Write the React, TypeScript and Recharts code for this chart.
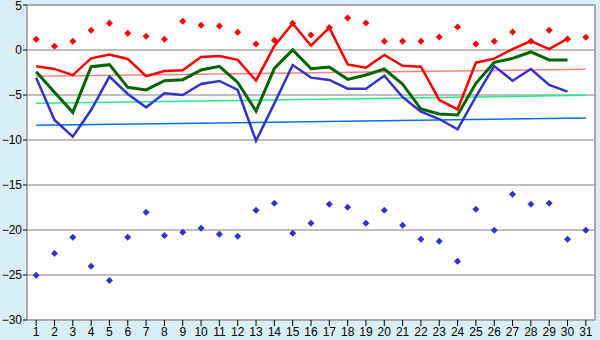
import React from "react";
import { ComposedChart, Line, Scatter, XAxis, YAxis, CartesianGrid, ReferenceLine } from "recharts";

document.body.style.margin = "0";

const days = Array.from({ length: 31 }, (_, i) => i + 1);

const redLine = [
  -1.8, -2.1, -2.8, -0.93, -0.5, -1.0, -2.9, -2.33, -2.26, -0.78,
  -0.67, -1.1, -3.4, 0.44, 2.96, 0.48, 2.48, -1.6, -1.96, -0.56,
  -1.75, -1.85, -5.55, -6.6, -1.41, -0.96, 0.1, 1.0, 0.1, 1.26, null,
];
const greenLine = [
  -2.41, -4.7, -6.93, -1.85, -1.63, -4.15, -4.44, -3.41, -3.3, -2.22,
  -1.81, -3.6, -6.78, -2.04, 0.0, -2.07, -1.89, -3.26, -2.78, -2.11,
  -3.8, -6.56, -7.11, -7.22, -3.7, -1.37, -0.93, -0.22, -1.11, -1.11, null,
];
const blueLine = [
  -3.07, -7.78, -9.63, -6.67, -2.96, -4.89, -6.37, -4.81, -5.0, -3.78,
  -3.44, -4.44, -10.1, -5.93, -1.67, -3.07, -3.33, -4.3, -4.3, -2.85,
  -5.23, -6.85, -7.67, -8.81, -5.19, -1.78, -3.41, -2.11, -3.89, -4.63, null,
];
const redPoints = [
  1.19, 0.41, 0.96, 2.19, 2.96, 1.85, 1.52, 1.19, 3.19, 2.74,
  2.67, 1.96, 0.67, 1.07, 2.96, 1.67, 2.5, 3.56, 3.0, 0.96,
  0.96, 0.96, 1.44, 2.56, 0.67, 0.96, 2.0, 0.96, 2.19, 1.22, 1.41,
];
const bluePoints = [
  -25.04, -22.6, -20.8, -24.04, -25.6, -20.8, -18.04, -20.6, -20.26, -19.8,
  -20.48, -20.7, -17.8, -17.04, -20.37, -19.26, -17.15, -17.48, -19.26, -17.8,
  -19.48, -21.04, -21.26, -23.48, -17.7, -20.04, -16.04, -17.15, -17.04, -21.04, -20.04,
];
// trend lines: start (day 1) and end (day 31) values
const redTrend = [-2.93, -2.15];
const greenTrend = [-5.93, -5.04];
const blueTrend = [-8.37, -7.56];

const yTicks = [-30, -25, -20, -15, -10, -5, 0, 5];

const data = days.map((d, i) => {
  const last = i === days.length - 1;
  const edge = i === 0 || last;
  return {
    day: d,
    red: redLine[i],
    green: greenLine[i],
    blue: blueLine[i],
    redPts: redPoints[i],
    bluePts: bluePoints[i],
    redTrend: edge ? redTrend[last ? 1 : 0] : null,
    greenTrend: edge ? greenTrend[last ? 1 : 0] : null,
    blueTrend: edge ? blueTrend[last ? 1 : 0] : null,
  };
});

const Diamond = (color: string) => (props: any) => {
  const { cx, cy } = props;
  if (cx == null || cy == null) return null;
  const r = 3.5;
  return (
    <polygon
      points={`${cx},${cy - r} ${cx + r},${cy} ${cx},${cy + r} ${cx - r},${cy}`}
      fill={color}
    />
  );
};

const fmt = (v: number) => (v < 0 ? "\u2212" + Math.abs(v) : String(v));

const FONT = "Liberation Sans, Arial, sans-serif";

// y tick label; keep the top one inside the picture
const YTick = (props: any) => {
  const { x, y, payload } = props;
  const yy = Math.max(y, 6);
  return (
    <text x={x} y={yy} dy="0.355em" textAnchor="end" fontSize={12} fontFamily={FONT} fill="#000">
      {fmt(payload.value)}
    </text>
  );
};

export default function App() {
  const tickStyle = { fill: "#000", fontSize: 12, fontFamily: FONT };
  return (
    <div style={{ width: 600, height: 340, background: "#d9eff7" }}>
      <ComposedChart width={600} height={340} data={data} margin={{ top: 5, right: 5, left: 0, bottom: 0 }}>
        <CartesianGrid vertical={false} stroke="#aaaaaa" fill="#ffffff" strokeWidth={1.5} />
        <XAxis
          dataKey="day"
          type="number"
          domain={[0.5, 31.5]}
          ticks={days}
          interval={0}
          height={20}
          tick={tickStyle}
          tickSize={6}
          tickMargin={1}
          tickLine={{ stroke: "#000" }}
          axisLine={{ stroke: "#aaaaaa", strokeWidth: 2 }}
        />
        <YAxis
          type="number"
          domain={[-30, 5]}
          ticks={yTicks}
          interval={0}
          width={27}
          tick={<YTick />}
          tickSize={4}
          tickMargin={1}
          tickLine={{ stroke: "#000" }}
          axisLine={{ stroke: "#aaaaaa", strokeWidth: 2 }}
        />
        <ReferenceLine x={31.5} stroke="#aaaaaa" strokeWidth={2} />
        <ReferenceLine y={5} stroke="#aaaaaa" strokeWidth={2} />
        <Line dataKey="redTrend" stroke="#ff8080" strokeWidth={1.5} dot={false} connectNulls isAnimationActive={false} />
        <Line dataKey="greenTrend" stroke="#22ee88" strokeWidth={1.5} dot={false} connectNulls isAnimationActive={false} />
        <Line dataKey="blueTrend" stroke="#0070f0" strokeWidth={1.5} dot={false} connectNulls isAnimationActive={false} />
        <Line dataKey="blue" stroke="#3333cc" strokeWidth={2.5} dot={false} isAnimationActive={false} />
        <Line dataKey="green" stroke="#006600" strokeWidth={3} dot={false} isAnimationActive={false} />
        <Line dataKey="red" stroke="#ff0000" strokeWidth={2.5} dot={false} isAnimationActive={false} />
        <Scatter dataKey="redPts" shape={Diamond("#ff0000")} isAnimationActive={false} />
        <Scatter dataKey="bluePts" shape={Diamond("#3333cc")} isAnimationActive={false} />
      </ComposedChart>
    </div>
  );
}
